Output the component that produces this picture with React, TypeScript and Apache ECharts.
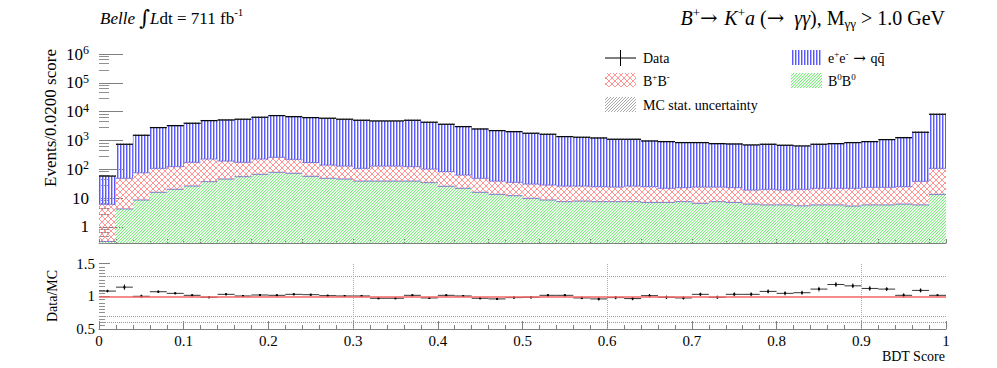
import React, { useEffect, useRef } from 'react';
import * as echarts from 'echarts';

const F = 'Liberation Serif';

// 50 bins of BDT score, width 0.02
const binWidth = 0.02;
const binLow: number[] = Array.from({ length: 50 }, (_, i) => +(i * binWidth).toFixed(2));

// B0 B0bar (green)
const bNeutral = [0.31, 4.2, 8.6, 15.9, 20.2, 26.3, 37.1, 46, 55.3, 67, 78.7, 72.6, 57.1, 48.7, 46, 39, 39, 39, 39, 34.3,
  25.7, 21.9, 15.9, 13.5, 12.1, 9.8, 8.6, 7.5, 7.9, 7.5, 7.5, 7.5, 7.1, 7.1, 7.5, 6.6, 7.5, 7.1, 6.2, 5.8,
  5.8, 5.4, 5.8, 5.8, 5.3, 5.8, 5.8, 6.2, 5.8, 13.5];
// B+ B- (red)
const bCharged = [5.8, 44.5, 67, 92, 103, 149, 191, 148, 120, 161, 182, 149, 115, 92, 84, 69, 91, 91, 84, 68,
  57, 41.5, 32.8, 25.5, 23.3, 21.1, 19.9, 18.8, 18.4, 17.4, 16.8, 18.8, 17.8, 14.8, 15.5, 17.7, 16.8, 15.9, 12.9, 14.4,
  13.3, 14.8, 16.1, 16.1, 16.6, 17.9, 17.9, 18.7, 32.5, 94.5];
// e+e- -> qqbar (blue)
const qqbar = [52, 689, 1438, 2674, 3143, 3781, 4642, 4956, 5275, 6162, 6999, 6478, 6018, 5759, 5320, 4922, 4620, 4620, 4907, 4183,
  3567, 2952, 2458, 2149, 1986, 1747, 1612, 1329, 1265, 1197, 1077, 1075, 936, 886, 816, 815, 750, 733, 679, 718,
  662, 624, 716, 752, 817, 884, 1042, 1225, 1889, 8012];
// Data counts
const dataCounts = [58, 738, 1514, 2782, 3266, 3956, 4870, 5150, 5450, 6390, 7260, 6700, 6190, 5900, 5450, 5030, 4750, 4750, 5030, 4285,
  3650, 3015, 2507, 2188, 2021, 1778, 1641, 1355, 1291, 1222, 1101, 1101, 961, 908, 839, 839, 774, 756, 698, 738,
  681, 644, 738, 774, 839, 908, 1066, 1250, 1927, 8120];
// Data/MC ratio and its error
const ratio = [1.08, 1.14, 1.0, 1.07, 1.045, 1.015, 0.985, 1.03, 1.005, 1.02, 1.015, 1.03, 1.025, 1.01, 1.005, 1.005, 0.97, 0.97, 1.015, 0.975,
  1.015, 1.005, 0.97, 0.96, 0.98, 0.985, 1.015, 1.015, 0.975, 0.96, 0.98, 0.965, 1.01, 0.985, 0.975, 1.03, 0.985, 1.03, 1.03, 1.075,
  1.045, 1.055, 1.11, 1.18, 1.16, 1.12, 1.11, 1.015, 1.09, 1.015];
const ratioErr = [0.02, 0.04, 0.025, 0.02, 0.015, 0.015, 0.015, 0.015, 0.015, 0.015, 0.015, 0.015, 0.015, 0.015, 0.015, 0.015, 0.015, 0.015, 0.015, 0.015,
  0.015, 0.015, 0.015, 0.015, 0.02, 0.02, 0.02, 0.02, 0.02, 0.025, 0.025, 0.025, 0.025, 0.025, 0.025, 0.025, 0.025, 0.03, 0.03, 0.03,
  0.03, 0.03, 0.035, 0.035, 0.035, 0.035, 0.03, 0.03, 0.03, 0.01];
const mcRelUnc = 0.06;

const yMin = 0.276;
const yMax = 1e6;

// pixel-pattern tile as an SVG data URL
function makePattern(w: number, h: number, pix: Array<[number, number, string]>) {
  const rects = pix.map(([x, y, c]) => `<rect x="${x}" y="${y}" width="1" height="1" fill="${c}"/>`).join('');
  const svg = `<svg xmlns="http://www.w3.org/2000/svg" width="${w}" height="${h}" shape-rendering="crispEdges">${rects}</svg>`;
  return {
    image: 'data:image/svg+xml;charset=utf-8,' + encodeURIComponent(svg),
    imageWidth: w, imageHeight: h, repeat: 'repeat',
  } as any;
}

export default function App() {
  const ref = useRef<HTMLDivElement>(null);
  useEffect(() => {
    const chart = echarts.init(ref.current!, null, { renderer: 'svg' });

    const BLUE = '#5a5aff', LBLUE = '#b4b4ff';
    const blueFill = () => makePattern(3, 1, [[0, 0, BLUE], [1, 0, LBLUE]]);
    const GREEN = 'rgb(125,235,125)', LGREEN = 'rgb(215,249,215)';
    const greenFill = () => makePattern(3, 3, [
      [2, 0, GREEN], [1, 1, GREEN], [0, 2, GREEN],
      [0, 0, LGREEN], [2, 1, LGREEN], [1, 2, LGREEN],
    ]);
    const RED = '#ff9494';
    const redPix: Array<[number, number, string]> = [];
    for (let i = 0; i < 6; i++) { redPix.push([i, i, RED]); if (5 - i !== i) redPix.push([5 - i, i, RED]); }
    const redFill = () => makePattern(6, 6, redPix);
    const GRAY = '#8c8c8c';
    const grayFill = () => makePattern(3, 3, [[2, 0, GRAY], [1, 1, GRAY], [0, 2, GRAY]]);
    const LGRAY = '#a8a8a8';
    const grayLegendFill = () => makePattern(3, 3, [[2, 0, LGRAY], [1, 1, LGRAY], [0, 2, LGRAY]]);

    const highRed = bNeutral.map((g, i) => g + bCharged[i]);
    const mcTotal = highRed.map((r, i) => r + qqbar[i]);

    const layer = (name: string, lo: number[], hi: number[], fill: any, edge: string | null) => ({
      type: 'custom', name, xAxisIndex: 0, yAxisIndex: 0, clip: true,
      data: binLow.map((b, i) => [b, b + binWidth, lo[i], hi[i]]),
      encode: { x: [0, 1], y: [2, 3] },
      renderItem: (params: any, api: any) => {
        const a = api.coord([api.value(0), api.value(3)]);
        const b = api.coord([api.value(1), api.value(2)]);
        const children: any[] = [{
          type: 'rect', shape: { x: a[0], y: a[1], width: b[0] - a[0], height: b[1] - a[1] },
          style: { fill },
        }];
        if (edge) children.push({ type: 'line', shape: { x1: a[0], y1: a[1], x2: b[0], y2: a[1] }, style: { stroke: edge, lineWidth: 1, opacity: 0.75 } });
        return { type: 'group', children };
      },
    });

    const richSet = (fs: number, lh: number) => ({
      n: { fontFamily: F, fontSize: fs, lineHeight: lh },
      it: { fontFamily: F, fontSize: fs, lineHeight: lh, fontStyle: 'italic' },
      ar: { fontFamily: 'DejaVu Serif', fontSize: Math.round(fs * 1.05), lineHeight: lh },
      sup: { fontFamily: F, fontSize: Math.round(fs * 0.65), lineHeight: Math.round(fs * 0.7), verticalAlign: 'top' },
      sub: { fontFamily: F, fontSize: Math.round(fs * 0.65), lineHeight: Math.round(fs * 0.7), verticalAlign: 'bottom' },
      int: { fontFamily: 'DejaVu Serif', fontSize: fs + 4, lineHeight: lh },
    });

    const logFormatter = (v: number) => {
      const e = Math.log10(v);
      const n = Math.round(e);
      if (Math.abs(e - n) > 1e-6) return '';
      if (n === 0) return '1';
      if (n === 1) return '10';
      return `{b|10}{s|${n}}`;
    };

    const legendText = (x: number, y: number, text: string) => ({
      type: 'text', x, y,
      style: { text, rich: richSet(14, 18), fontFamily: F, fontSize: 14, fill: '#000', align: 'left', verticalAlign: 'middle' },
    });

    const option: any = {
      animation: false,
      backgroundColor: '#fff',
      textStyle: { fontFamily: F },
      grid: [
        { left: 99, top: 54, width: 847, height: 189 },
        { left: 99, top: 263.6, width: 847, height: 65.4 },
      ],
      xAxis: [
        {
          type: 'value', gridIndex: 0, min: 0, max: 1, interval: 0.02,
          axisLine: { show: true, lineStyle: { color: '#808080', width: 1 } },
          axisTick: { show: true, inside: true, length: 4, lineStyle: { color: '#808080' } },
          axisLabel: { show: false }, splitLine: { show: false },
        },
        {
          type: 'value', gridIndex: 1, min: 0, max: 1, interval: 0.1,
          axisLine: { show: true, lineStyle: { color: '#808080', width: 1 } },
          axisTick: { show: true, inside: true, length: 8, lineStyle: { color: '#808080' } },
          minorTick: { show: true, splitNumber: 5, length: 4, lineStyle: { color: '#808080' } },
          axisLabel: { show: true, fontFamily: F, fontSize: 15, color: '#000', margin: 4 },
          splitLine: { show: false },
        },
      ],
      yAxis: [
        {
          type: 'log', logBase: 10, gridIndex: 0, min: yMin, max: yMax,
          axisLine: { show: false },
          axisTick: { show: true, inside: true, length: 24, lineStyle: { color: '#808080' } },
          minorTick: { show: true, splitNumber: 5, length: 10, lineStyle: { color: '#909090' } },
          splitLine: { show: false },
          axisLabel: {
            formatter: logFormatter, fontFamily: F, fontSize: 17, color: '#000', margin: 10,
            rich: {
              b: { fontFamily: F, fontSize: 17, lineHeight: 20 },
              s: { fontFamily: F, fontSize: 12, lineHeight: 12, verticalAlign: 'top' },
            },
          },
        },
        {
          type: 'value', gridIndex: 1, min: 0.5, max: 1.5, interval: 0.5,
          axisLine: { show: false },
          axisTick: { show: true, inside: true, length: 11, lineStyle: { color: '#808080' } },
          minorTick: { show: true, splitNumber: 10, length: 6, lineStyle: { color: '#909090' } },
          splitLine: { show: false },
          axisLabel: { fontFamily: F, fontSize: 15, color: '#000', margin: 4 },
        },
      ],
      series: [
        layer('B0B0', binLow.map(() => yMin), bNeutral, greenFill(), '#4646c8'),
        layer('B+B-', bNeutral, highRed, redFill(), '#4646c8'),
        layer('qq', highRed, mcTotal, blueFill(), null),
        layer('MC stat', mcTotal.map(v => v * (1 - mcRelUnc)), mcTotal.map(v => v * (1 + mcRelUnc)), grayFill(), null),
        {
          type: 'custom', name: 'Data', xAxisIndex: 0, yAxisIndex: 0, clip: true,
          data: binLow.map((b, i) => [b, b + binWidth, dataCounts[i]]),
          encode: { x: [0, 1], y: 2 },
          renderItem: (params: any, api: any) => {
            const a = api.coord([api.value(0), api.value(2)]);
            const b = api.coord([api.value(1), api.value(2)]);
            return { type: 'line', shape: { x1: a[0], y1: a[1], x2: b[0], y2: b[1] }, style: { stroke: '#000', lineWidth: 1.2 } };
          },
        },
        {
          type: 'custom', name: 'Ratio', xAxisIndex: 1, yAxisIndex: 1, clip: true,
          data: binLow.map((b, i) => [b, b + binWidth, ratio[i], ratioErr[i]]),
          encode: { x: [0, 1], y: 2 },
          renderItem: (params: any, api: any) => {
            const x0 = api.value(0), x1 = api.value(1), r = api.value(2), e = api.value(3);
            const a = api.coord([x0, r]);
            const b = api.coord([x1, r]);
            const xc = (a[0] + b[0]) / 2;
            const t = api.coord([(x0 + x1) / 2, r + e]);
            const d = api.coord([(x0 + x1) / 2, r - e]);
            return {
              type: 'group', children: [
                { type: 'line', shape: { x1: a[0], y1: a[1], x2: b[0], y2: b[1] }, style: { stroke: '#000', lineWidth: 0.8 } },
                { type: 'line', shape: { x1: xc, y1: t[1], x2: xc, y2: d[1] }, style: { stroke: '#000', lineWidth: 1 } },
                { type: 'rect', shape: { x: xc - 1, y: a[1] - 1, width: 2, height: 2 }, style: { fill: '#000' } },
              ],
            };
          },
          markLine: {
            silent: true, symbol: ['none', 'none'], label: { show: false }, animation: false,
            data: [
              { yAxis: 1.3, lineStyle: { color: '#999', type: 'dotted', width: 1 } },
              { yAxis: 0.7, lineStyle: { color: '#999', type: 'dotted', width: 1 } },
              { yAxis: 0.6, lineStyle: { color: '#999', type: 'dotted', width: 1 } },
              { xAxis: 0.3, lineStyle: { color: '#aaa', type: 'dotted', width: 1 } },
              { xAxis: 0.6, lineStyle: { color: '#aaa', type: 'dotted', width: 1 } },
              { xAxis: 0.9, lineStyle: { color: '#aaa', type: 'dotted', width: 1 } },
              { yAxis: 1, lineStyle: { color: '#f26464', type: 'solid', width: 1.5 } },
            ],
          },
          z: 3,
        },
      ],
      graphic: [
        {
          type: 'text', x: 100, y: 18,
          style: {
            text: '{it|Belle} {int|∫}{it|L}{n|dt = 711 fb}{sup|-1}', rich: richSet(17, 24),
            fontFamily: F, fontSize: 17, fill: '#000', align: 'left', verticalAlign: 'middle',
          },
        },
        {
          type: 'text', x: 945, y: 18,
          style: {
            text: '{it|B}{sup|+}{ar|→ }{it|K}{sup|+}{it|a}{n| (}{ar|→}{n|  }{it|γγ}{n|), M}{sub|γγ}{n| > 1.0 GeV}',
            rich: richSet(20, 24), fontFamily: F, fontSize: 20, fill: '#000', align: 'right', verticalAlign: 'middle',
          },
        },
        {
          type: 'text', x: 50, y: 118, rotation: Math.PI / 2,
          style: { text: 'Events/0.0200 score', fontFamily: F, fontSize: 17, fill: '#000', align: 'center', verticalAlign: 'middle' },
        },
        {
          type: 'text', x: 52, y: 296, rotation: Math.PI / 2,
          style: { text: 'Data/MC', fontFamily: F, fontSize: 14, fill: '#000', align: 'center', verticalAlign: 'middle' },
        },
        {
          type: 'text', x: 945, y: 356,
          style: { text: 'BDT Score', fontFamily: F, fontSize: 14, fill: '#000', align: 'right', verticalAlign: 'middle' },
        },
        // legend
        { type: 'line', shape: { x1: 605, y1: 58, x2: 636, y2: 58 }, style: { stroke: '#000', lineWidth: 1 } },
        { type: 'line', shape: { x1: 620.5, y1: 50, x2: 620.5, y2: 66 }, style: { stroke: '#000', lineWidth: 1 } },
        legendText(643, 58, '{n|Data}'),
        { type: 'rect', shape: { x: 605, y: 73, width: 31, height: 14 }, style: { fill: redFill() } },
        legendText(643, 81, '{n|B}{sup|+}{n|B}{sup|-}'),
        { type: 'rect', shape: { x: 605, y: 97, width: 31, height: 15 }, style: { fill: grayLegendFill() } },
        legendText(643, 105, '{n|MC stat. uncertainty}'),
        { type: 'rect', shape: { x: 791, y: 50, width: 31, height: 15 }, style: { fill: blueFill() } },
        legendText(828, 58, '{n|e}{sup|+}{n|e}{sup|-}{ar| → }{n|qq\u0304}'),
        { type: 'rect', shape: { x: 791, y: 73, width: 31, height: 15 }, style: { fill: greenFill() } },
        legendText(828, 81, '{n|B}{sup|0}{n|B}{sup|0}'),
      ],
    };
    chart.setOption(option);
    return () => chart.dispose();
  }, []);
  return <div ref={ref} style={{ position: 'absolute', left: 0, top: 0, width: 997, height: 368 }} />;
}
